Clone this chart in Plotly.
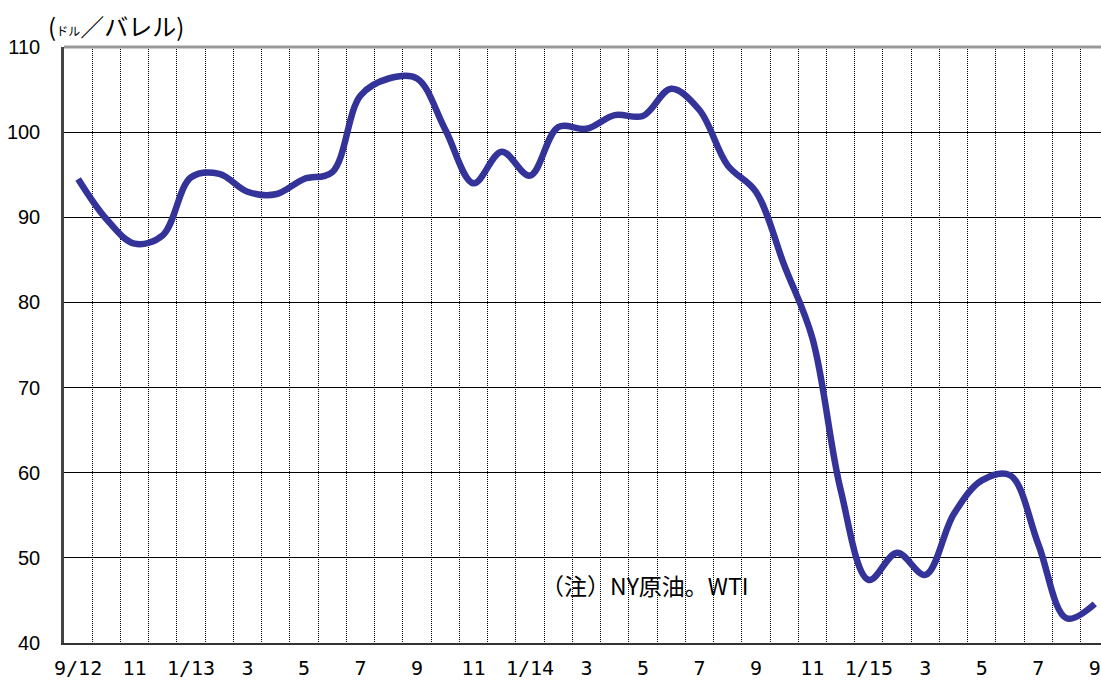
import plotly.graph_objects as go

# Monthly WTI (NY crude) price, US$/barrel, Sep 2012 - Sep 2015
months = [
    "2012-09", "2012-10", "2012-11", "2012-12",
    "2013-01", "2013-02", "2013-03", "2013-04", "2013-05", "2013-06",
    "2013-07", "2013-08", "2013-09", "2013-10", "2013-11", "2013-12",
    "2014-01", "2014-02", "2014-03", "2014-04", "2014-05", "2014-06",
    "2014-07", "2014-08", "2014-09", "2014-10", "2014-11", "2014-12",
    "2015-01", "2015-02", "2015-03", "2015-04", "2015-05", "2015-06",
    "2015-07", "2015-08", "2015-09",
]
wti = [
    94.5, 89.8, 86.9, 87.9,
    94.7, 95.1, 93.0, 92.7, 94.5, 95.3,
    104.3, 106.3, 106.3, 100.3, 94.0, 97.7,
    94.9, 100.6, 100.4, 102.0, 101.9, 105.1,
    102.6, 96.1, 93.0, 84.4, 75.8, 58.0,
    47.4, 50.6, 48.0, 55.1, 59.1, 59.7,
    51.6, 42.9, 44.6,
]
tick_labels = ["9/12", "11", "1/13", "3", "5", "7", "9", "11", "1/14",
               "3", "5", "7", "9", "11", "1/15", "3", "5", "7", "9"]
y_ticks = [40, 50, 60, 70, 80, 90, 100, 110]

idx = list(range(len(months)))
label_pos = idx[::2]
boundaries = [i + 0.5 for i in idx[:-1]]

fig = go.Figure()
fig.add_trace(go.Scatter(
    x=idx, y=wti, mode="lines",
    line=dict(color="#333399", width=6.5, shape="spline", smoothing=1.0),
    hoverinfo="skip", showlegend=False,
))

fig.update_layout(
    width=1101, height=680,
    margin=dict(l=64, r=0, t=47, b=37, autoexpand=False),
    paper_bgcolor="white", plot_bgcolor="white",
    xaxis=dict(
        range=[-0.5, 36.22], automargin=False,
        tickmode="array", tickvals=label_pos, ticktext=tick_labels,
        showgrid=False, zeroline=False,
        showline=True, linecolor="#333333", linewidth=2,
        ticks="", ticklabelstandoff=6,
        tickfont=dict(family="DejaVu Sans Mono", size=20, color="black"),
        minor=dict(tickmode="array", tickvals=boundaries, showgrid=True,
                   gridcolor="#000000", griddash="1px,1px", gridwidth=1),
    ),
    yaxis=dict(
        range=[40, 110], automargin=False,
        tickmode="array", tickvals=y_ticks,
        showgrid=True, gridcolor="black", gridwidth=1,
        zeroline=False,
        showline=True, linecolor="#444444", linewidth=2.5,
        ticks="", ticklabelstandoff=17,
        tickfont=dict(family="Liberation Sans, Arial", size=20, color="black"),
    ),
    shapes=[
        dict(type="line", xref="paper", yref="paper", x0=0, x1=1, y0=1, y1=1,
             line=dict(color="#999999", width=3), layer="above"),
        dict(type="rect", xref="paper", yref="paper",
             x0=0.4397, x1=0.6683, y0=0.0285, y1=0.136,
             fillcolor="white", line=dict(width=0), layer="between"),
    ],
    annotations=[
        dict(xref="paper", yref="paper", x=-0.0174, y=1.036,
             xanchor="left", yanchor="middle", showarrow=False,
             text="(<span style='font-size:12px'>ドル</span>／バレル)",
             font=dict(family="Noto Sans CJK JP", size=24, color="black")),
        dict(xref="paper", yref="paper", x=0.5603, y=0.0973,
             xanchor="center", yanchor="middle", showarrow=False,
             text="（注）NY原油。WTI",
             font=dict(family="Noto Sans CJK JP", size=23, color="black")),
    ],
)

fig.write_html(
    "out.html",
    config={"displayModeBar": False},
    post_script="document.body.style.margin='0';document.body.style.overflow='hidden';",
)
